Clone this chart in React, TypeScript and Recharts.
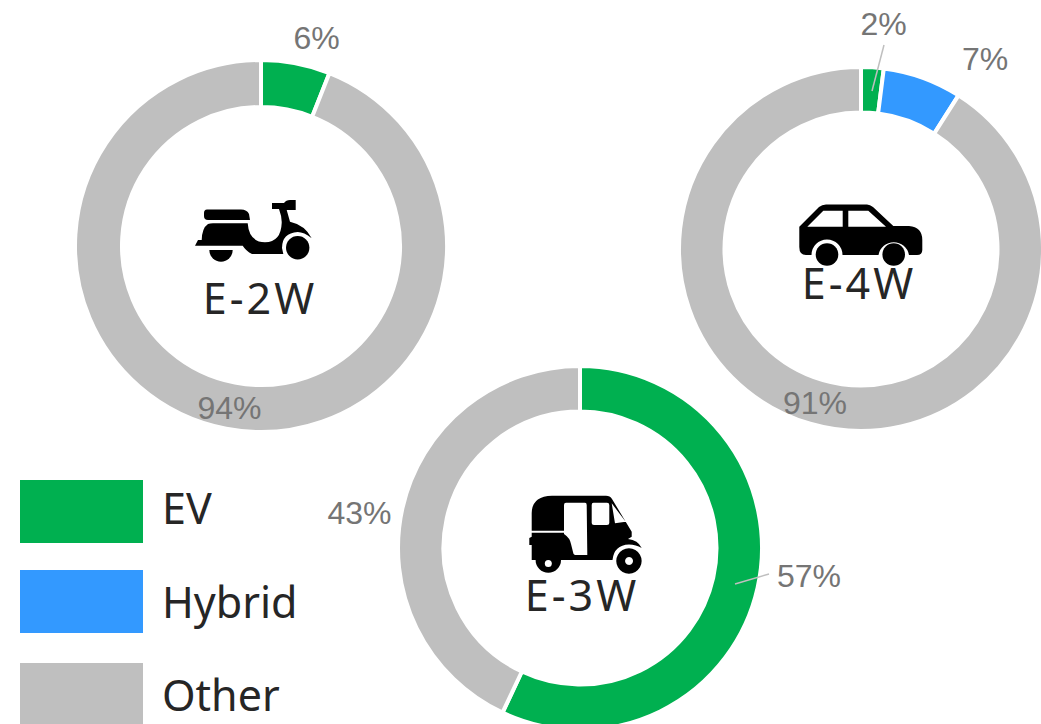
import { Cell, Legend, Pie, PieChart } from 'recharts'

const evColor = '#00b050'
const hybridColor = '#3399ff'
const otherColor = '#bfbfbf'

const twoWheelerShares = [6, 94]
const twoWheelerKinds = ['EV', 'Other']
const fourWheelerShares = [2, 7, 91]
const fourWheelerKinds = ['EV', 'Hybrid', 'Other']
const threeWheelerShares = [57, 43]
const threeWheelerKinds = ['EV', 'Other']
const legendNames = ['EV', 'Hybrid', 'Other']

const colors: Record<string, string> = { EV: evColor, Hybrid: hybridColor, Other: otherColor }
const rows = (kinds: string[], shares: number[]) => kinds.map((kind, i) => ({ kind, share: shares[i] }))

interface LabelSpot {
  x: number
  y: number
  line?: [number, number, number, number]
}

// hand placed, the source chart moved these around by hand as well
const twoWheelerSpots: LabelSpot[] = [{ x: 316.5, y: 38 }, { x: 229.5, y: 408 }]
const fourWheelerSpots: LabelSpot[] = [
  { x: 883.5, y: 24, line: [884, 45, 872, 91] },
  { x: 985, y: 59 },
  { x: 815, y: 403 }
]
const threeWheelerSpots: LabelSpot[] = [
  { x: 809, y: 576, line: [769, 574, 735, 584] },
  { x: 359.5, y: 513 }
]

const shareLabel = (spots: LabelSpot[]) => (props: any) => {
  const spot = spots[props.index]
  return (
    <g>
      {spot.line && (
        <line
          x1={spot.line[0]}
          y1={spot.line[1]}
          x2={spot.line[2]}
          y2={spot.line[3]}
          stroke="#bfbfbf"
          strokeWidth={1.5}
        />
      )}
      <text
        x={spot.x}
        y={spot.y}
        textAnchor="middle"
        dominantBaseline="central"
        fontFamily="'Liberation Sans', Arial, sans-serif"
        fontSize={32}
        fill="#757575"
      >
        {`${props.value}%`}
      </text>
    </g>
  )
}

function Ring(
  kinds: string[],
  shares: number[],
  spots: LabelSpot[],
  cx: number,
  cy: number,
  innerRadius: number,
  outerRadius: number
) {
  return (
    <Pie
      data={rows(kinds, shares)}
      dataKey="share"
      nameKey="kind"
      cx={cx}
      cy={cy}
      innerRadius={innerRadius}
      outerRadius={outerRadius}
      startAngle={90}
      endAngle={-270}
      stroke="#ffffff"
      strokeWidth={4}
      label={shareLabel(spots)}
      labelLine={false}
      isAnimationActive={false}
    >
      {kinds.map((kind) => (
        <Cell key={kind} fill={colors[kind]} />
      ))}
    </Pie>
  )
}

function ScooterIcon() {
  return (
    <g fill="#000000">
      <path d="M207,209.5 H241 Q247,209.5 249,214 L250,220 H208 Q204,220 204,216 V213 Q204,209.5 207,209.5 Z" />
      <path d="M195,245.7 L198,240 H201.7 Q202,228 208,224 Q210,223.3 213,223.3 H247.7 Q249,242 265,242.3 Q281,242 281.7,223 Q282,217 279,209 H272 V203 H284 Q286,200 290,200 H295.7 V210 H286.7 L290,221.7 Q305,225 311.7,238.3 Q304,232 297.7,232 Q282,233 282,248 L283.3,254 H252 Q246,251 242.7,245.7 Z" />
      <circle cx={297.7} cy={247.7} r={11.7} />
      <path d="M209.3,250 H232.7 A11.7,11.7 0 0 1 209.3,250 Z" />
    </g>
  )
}

function CarIcon() {
  return (
    <g fill="#000000">
      <path
        fillRule="evenodd"
        d="M799.3,226.7 L819,207 Q822,204.5 826,204.5 H867 Q870,204.5 873,207 L893.3,226 H909 Q922.3,227 922.3,240 V250 Q922.3,255 917,255 H909 A15.5,15.5 0 0 0 878.5,255 H842.5 A15.5,15.5 0 0 0 811.5,255 H806 Q799.3,255 799.3,247 Z M807.3,226.7 L823.3,210.7 H842.7 V226.7 Z M848.3,210.7 H868.3 L886,226.7 H848.3 Z"
      />
      <circle cx={827} cy={254.5} r={11.3} />
      <circle cx={893.7} cy={254.5} r={11.3} />
    </g>
  )
}

function RickshawIcon() {
  return (
    <g fill="#000000">
      <path
        fillRule="evenodd"
        d="M531.7,513 Q532,496 552,495.7 H606 Q610,495.7 612,499 L631.7,531.7 V536.7 L628,539 Q638,540 641.7,548 Q636,544.5 629,544.5 Q614,545 612.5,560 H531.7 V545 H529.3 V538 L531.7,536.7 V532.7 H564 V530.7 H531.7 Z M566,502.7 H585 Q586.7,502.7 586.7,505 L587.3,555 H575 Q573.3,555 573,552 L571,544 Q570,538 564,534 V505 Q564,502.7 566,502.7 Z M593.5,502.7 H607 Q609.3,502.7 609.3,505 V523 Q609.3,525 607,525 H594 Q591.7,525 591.7,523 V505 Q591.7,502.7 593.5,502.7 Z M611.7,503.3 L625.7,521.7 L615,523.3 Z"
      />
      <path
        fillRule="evenodd"
        d="M629,548.3 A12.7,12.7 0 1 1 628.9,548.3 Z M629,557 A4,4 0 1 0 629.1,557 Z"
      />
      <path d="M535.6,560 H561 A12.7,12.7 0 0 1 535.6,560 Z" />
      <circle cx={548.3} cy={563.5} r={3.5} fill="#ffffff" />
    </g>
  )
}

function CenterTitle({ x, y, children }: { x: number; y: number; children: string }) {
  return (
    <text
      x={x}
      y={y}
      textAnchor="middle"
      dominantBaseline="central"
      fontFamily="'Noto Sans', sans-serif"
      fontSize={43}
      letterSpacing={3}
      fill="#262626"
    >
      {children}
    </text>
  )
}

function KindLegend() {
  return (
    <div style={{ position: 'relative', width: 300, height: 244 }}>
      {legendNames.map((name, i) => {
        const top = [0, 90, 183][i]
        const textTop = [0, 94, 187][i]
        return (
          <div key={name}>
            <div
              style={{
                position: 'absolute',
                left: 0,
                top,
                width: 123,
                height: 63,
                background: colors[name]
              }}
            />
            <div
              style={{
                position: 'absolute',
                left: 142,
                top: textTop,
                fontFamily: "'Noto Sans', sans-serif",
                fontSize: 43,
                lineHeight: '56px',
                color: '#262626'
              }}
            >
              {name}
            </div>
          </div>
        )
      })}
    </div>
  )
}

export default function App() {
  return (
    <div style={{ position: 'absolute', left: 0, top: 0, width: 1041, height: 724, overflow: 'hidden' }}>
      <PieChart width={1041} height={724} margin={{ top: 0, right: 0, bottom: 0, left: 0 }}>
        {Ring(twoWheelerKinds, twoWheelerShares, twoWheelerSpots, 261, 246, 139, 186)}
        {Ring(fourWheelerKinds, fourWheelerShares, fourWheelerSpots, 861, 249, 136.5, 182)}
        {Ring(threeWheelerKinds, threeWheelerShares, threeWheelerSpots, 580, 548, 136.5, 182)}
        <ScooterIcon />
        <CarIcon />
        <RickshawIcon />
        <CenterTitle x={260} y={297}>E-2W</CenterTitle>
        <CenterTitle x={859} y={282}>E-4W</CenterTitle>
        <CenterTitle x={582} y={594}>E-3W</CenterTitle>
        <Legend
          content={() => <KindLegend />}
          wrapperStyle={{ position: 'absolute', left: 20, top: 480, bottom: 'auto', width: 300 }}
        />
      </PieChart>
    </div>
  )
}
